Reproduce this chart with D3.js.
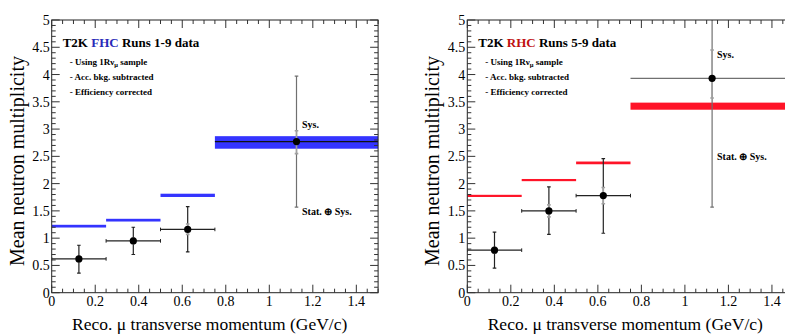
<!DOCTYPE html>
<html>
<head>
<meta charset="utf-8">
<script src="https://cdn.jsdelivr.net/npm/d3@7"></script>
<style>
  body { margin: 0; background: #fff; }
  svg { display: block; font-family: 'Liberation Serif', 'Times New Roman', serif; }
</style>
</head>
<body>
<svg id="chart" width="785" height="336"></svg>
<script>
// bins in reco muon transverse momentum (GeV/c)
const binLow = [0, 0.25, 0.5, 0.75]
const binHigh = [0.25, 0.5, 0.75, 1.5]
const binCenter = [0.125, 0.375, 0.625, 1.125]

// FHC data: mean, stat+sys band, sys band
const fhcMean = [0.62, 0.95, 1.16, 2.77]
const fhcTotLo = [0.36, 0.70, 0.75, 1.57]
const fhcTotHi = [0.87, 1.20, 1.58, 3.97]
const fhcSysLo = [0.58, 0.90, 1.07, 2.55]
const fhcSysHi = [0.66, 1.00, 1.26, 2.97]
// FHC MC prediction (centre, half width)
const fhcMC = [1.22, 1.33, 1.785, 2.755]
const fhcMCErr = [0.025, 0.025, 0.03, 0.115]

// RHC data
const rhcMean = [0.78, 1.50, 1.78, 3.93]
const rhcTotLo = [0.45, 1.07, 1.09, 1.57]
const rhcTotHi = [1.11, 1.94, 2.46, 5.3]
const rhcSysLo = [0.73, 1.39, 1.63, 3.57]
const rhcSysHi = [0.83, 1.61, 1.93, 4.45]
const rhcMC = [1.775, 2.065, 2.38, 3.42]
const rhcMCErr = [0.02, 0.02, 0.025, 0.065]

const xTicks = [0, 0.2, 0.4, 0.6, 0.8, 1, 1.2, 1.4]
const yTicks = [0, 0.5, 1, 1.5, 2, 2.5, 3, 3.5, 4, 4.5, 5]
const notes = ['- Using 1R\u03bd', '- Acc. bkg. subtracted', '- Efficiency corrected']

const svg = d3.select('#chart')

function drawPanel (opt) {
  const x = d3.scaleLinear().domain([0, 1.5]).range([opt.left, opt.left + 326.4])
  const y = d3.scaleLinear().domain([0, 5]).range([292.7, 20])
  const g = svg.append('g')
  const x0 = x(0), x1 = x(1.5), y0 = y(0), y1 = y(5)

  g.append('clipPath').attr('id', 'clip' + opt.id)
    .append('rect').attr('x', x0).attr('y', y1).attr('width', x1 - x0).attr('height', y0 - y1)

  const plot = g.append('g').attr('clip-path', `url(#clip${opt.id})`)

  // MC prediction bands
  plot.selectAll('.mc')
    .data(opt.mc)
    .enter()
    .append('rect')
    .attr('x', (d, i) => x(binLow[i]))
    .attr('width', (d, i) => x(binHigh[i]) - x(binLow[i]))
    .attr('y', (d, i) => y(d + opt.mcErr[i]))
    .attr('height', (d, i) => y(d - opt.mcErr[i]) - y(d + opt.mcErr[i]))
    .attr('fill', opt.color)

  const pts = opt.mean.map((m, i) => ({ i, m, last: i === 3 }))
  const barCol = d => d.last ? '#707070' : '#222'
  const cap = 1.8

  // horizontal bars (bin widths)
  plot.selectAll('.hbar').data(pts).enter().append('line')
    .attr('x1', d => x(binLow[d.i])).attr('x2', d => x(binHigh[d.i]))
    .attr('y1', d => y(d.m)).attr('y2', d => y(d.m))
    .attr('stroke', d => d.last && opt.id === 'L' ? '#111' : barCol(d)).attr('stroke-width', 1.2)
  plot.selectAll('.hcap').data(pts.filter(d => !d.last)).enter().append('path')
    .attr('d', d => `M${x(binLow[d.i])},${y(d.m) - cap}V${y(d.m) + cap}M${x(binHigh[d.i])},${y(d.m) - cap}V${y(d.m) + cap}`)
    .attr('stroke', barCol).attr('stroke-width', 1)

  // stat+sys vertical bars
  plot.selectAll('.vbar').data(pts).enter().append('path')
    .attr('d', d => {
      const cx = x(binCenter[d.i])
      const t = y(opt.totHi[d.i]), b = y(opt.totLo[d.i])
      return `M${cx},${t}V${b}M${cx - cap},${t}H${cx + cap}M${cx - cap},${b}H${cx + cap}`
    })
    .attr('stroke', barCol).attr('stroke-width', 1.2).attr('fill', 'none')

  // sys only bars (grey)
  plot.selectAll('.sbar').data(pts).enter().append('path')
    .attr('d', d => {
      const cx = x(binCenter[d.i])
      const t = y(opt.sysHi[d.i]), b = y(opt.sysLo[d.i])
      return `M${cx},${t}V${b}M${cx - cap},${t}H${cx + cap}M${cx - cap},${b}H${cx + cap}`
    })
    .attr('stroke', '#a0a0a0').attr('stroke-width', 1.6).attr('fill', 'none')

  plot.selectAll('.pt').data(pts).enter().append('circle')
    .attr('cx', d => x(binCenter[d.i])).attr('cy', d => y(d.m))
    .attr('r', 3.6).attr('fill', '#000')

  // frame + ROOT style ticks on all four sides
  g.append('rect').attr('x', x0).attr('y', y1).attr('width', x1 - x0).attr('height', y0 - y1)
    .attr('fill', 'none').attr('stroke', '#222').attr('stroke-width', 1)

  const xMinor = d3.range(0, 1.5001, 0.05)
  const yMinor = d3.range(0, 5.0001, 0.1)
  const isMaj = (v, s) => Math.abs(v / s - Math.round(v / s)) < 1e-6
  const tk = g.append('g').attr('stroke', '#333').attr('stroke-width', 1)
  xMinor.forEach(v => {
    const len = isMaj(v, 0.2) ? 8 : 4
    tk.append('line').attr('x1', x(v)).attr('x2', x(v)).attr('y1', y0).attr('y2', y0 - len)
    tk.append('line').attr('x1', x(v)).attr('x2', x(v)).attr('y1', y1).attr('y2', y1 + len)
  })
  yMinor.forEach(v => {
    const len = isMaj(v, 0.5) ? 8 : 4
    tk.append('line').attr('x1', x0).attr('x2', x0 + len).attr('y1', y(v)).attr('y2', y(v))
    tk.append('line').attr('x1', x1).attr('x2', x1 - len).attr('y1', y(v)).attr('y2', y(v))
  })

  g.selectAll('.xl').data(xTicks).enter().append('text')
    .attr('x', d => x(d)).attr('y', 306).attr('text-anchor', 'middle')
    .attr('font-size', 14).text(d => d)
  g.selectAll('.yl').data(yTicks).enter().append('text')
    .attr('x', x0 - 2).attr('y', d => y(d) + 5).attr('text-anchor', 'end')
    .attr('font-size', 14).text(d => d)

  g.append('text').attr('x', x0 + 158).attr('y', 330).attr('text-anchor', 'middle')
    .attr('font-size', 17.5).text('Reco. \u03bc transverse momentum (GeV/c)')
  g.append('text').attr('transform', `translate(${x0 - 28},161) rotate(-90)`)
    .attr('text-anchor', 'middle').attr('font-size', 20).text('Mean neutron multiplicity')

  // label block
  const title = g.append('text').attr('x', x0 + 11).attr('y', 47)
    .attr('font-size', 13).attr('font-weight', 'bold')
  title.append('tspan').text('T2K ')
  title.append('tspan').attr('fill', opt.titleColor).text(opt.mode)
  title.append('tspan').text(' Runs ' + opt.runs + ' data')

  notes.forEach((n, i) => {
    const t = g.append('text').attr('x', x0 + 18).attr('y', 65 + i * 15)
      .attr('font-size', 9).attr('font-weight', 'bold')
    t.append('tspan').text(n)
    if (i === 0) {
      t.append('tspan').attr('font-size', 6.5).attr('dy', 2).text('\u03bc')
      t.append('tspan').attr('dy', -2).text(' sample')
    }
  })

  g.append('text').attr('x', opt.sysPos[0]).attr('y', opt.sysPos[1])
    .attr('font-size', 10).attr('font-weight', 'bold').text('Sys.')
  g.append('text').attr('x', opt.totPos[0]).attr('y', opt.totPos[1])
    .attr('font-size', 10).attr('font-weight', 'bold').text('Stat. \u2295 Sys.')
}

drawPanel({
  id: 'L', left: 51.7, mode: 'FHC', runs: '1-9', titleColor: '#2a2ab8', color: '#3434ff',
  mean: fhcMean, totLo: fhcTotLo, totHi: fhcTotHi, sysLo: fhcSysLo, sysHi: fhcSysHi,
  mc: fhcMC, mcErr: fhcMCErr, sysPos: [302, 128], totPos: [302, 215]
})
drawPanel({
  id: 'R', left: 467.3, mode: 'RHC', runs: '5-9', titleColor: '#c01010', color: '#ff1428',
  mean: rhcMean, totLo: rhcTotLo, totHi: rhcTotHi, sysLo: rhcSysLo, sysHi: rhcSysHi,
  mc: rhcMC, mcErr: rhcMCErr, sysPos: [717, 58], totPos: [717, 160]
})
</script>
</body>
</html>
